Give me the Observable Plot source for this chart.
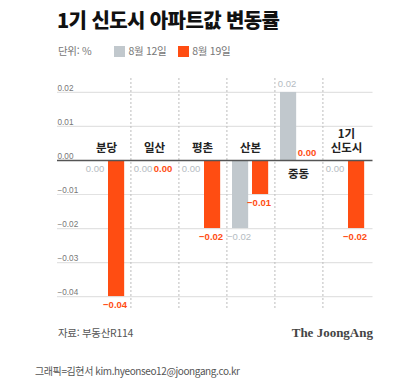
<!DOCTYPE html>
<html lang="ko">
<head>
<meta charset="utf-8">
<script src="https://cdn.jsdelivr.net/npm/d3@7"></script>
<script src="https://cdn.jsdelivr.net/npm/@observablehq/plot@0.6"></script>
<style>
  html, body { margin: 0; padding: 0; background: #fff; }
  #page { position: relative; width: 414px; height: 384px; overflow: hidden; background: #fff;
          font-family: "Noto Sans CJK KR", "Liberation Sans", sans-serif; }
  .abs { position: absolute; white-space: nowrap; }
  #title { left: 57px; top: 8px; font-size: 20px; line-height: 24px; font-weight: 900; color: #111; letter-spacing: -0.6px; }
  #legend { left: 58px; top: 44px; font-size: 10.5px; line-height: 14px; color: #777; display: flex; align-items: center; letter-spacing: -0.3px; }
  .sw { display: inline-block; width: 11px; height: 11px; margin-right: 3px; }
  #chart { left: 0; top: 70px; }
  #source { left: 58px; top: 325px; font-size: 10.5px; line-height: 16px; color: #555; letter-spacing: -0.3px; }
  #brand { right: 41px; top: 324px; font-family: "Liberation Serif", serif; font-weight: 700; font-size: 13px; line-height: 18px; color: #444; }
  #credit { left: 35px; top: 363px; font-size: 10px; line-height: 16px; color: #555; letter-spacing: -0.4px; }
</style>
</head>
<body>
<div id="page">
  <div id="title" class="abs">1기 신도시 아파트값 변동률</div>
  <div id="legend" class="abs"></div>
  <div id="chart" class="abs"></div>
  <div id="source" class="abs">자료: 부동산R114</div>
  <div id="brand" class="abs">The JoongAng</div>
  <div id="credit" class="abs">그래픽=김현서 kim.hyeonseo12@joongang.co.kr</div>
</div>
<script>
// ---- data ----
const categories = ["분당", "일산", "평촌", "산본", "중동", "1기 신도시"];
const categoryLabels = ["분당", "일산", "평촌", "산본", "중동", "1기\n신도시"];
const series = ["8월 12일", "8월 19일"];
const aug12 = [0.00, 0.00, 0.00, -0.02, 0.02, 0.00];
const aug19 = [-0.04, 0.00, -0.02, -0.01, 0.00, -0.02];
const yTicks = [0.02, 0.01, 0.00, -0.01, -0.02, -0.03, -0.04];
const colors = ["#c1c8cd", "#ff4d12"];
const labelColors = ["#b5bcc2", "#ff4d12"];

// ---- legend ----
const legend = document.getElementById("legend");
legend.innerHTML = `<span style="margin-right:23px">단위: %</span>` +
  series.map((s, i) => `<span class="sw" style="background:${colors[i]}"></span><span style="margin-right:12px">${s}</span>`).join("");

// ---- table ----
const rows = [];
categories.forEach((c, i) => {
  const above = Math.max(aug12[i], aug19[i]) > 0;
  rows.push({category: c, series: series[0], value: aug12[i], above, si: 0});
  rows.push({category: c, series: series[1], value: aug19[i], above, si: 1});
});
const catRows = categories.map((c, i) => ({
  category: c, label: categoryLabels[i], above: Math.max(aug12[i], aug19[i]) > 0
}));

const fmt = d3.format(".2f");
const W = 414, H = 250;
const x0 = 79.5, x1 = 372.5;
const bw = (x1 - x0) / categories.length;
const barW = 17, gap = 3, outer = 6;
const insets = [
  {insetLeft: outer, insetRight: bw - outer - barW},
  {insetLeft: outer + barW + gap, insetRight: bw - outer - 2 * barW - gap}
];
const centerOff = [
  -bw / 2 + outer + barW / 2,
  -bw / 2 + outer + barW + gap + barW / 2
];
const labelShift = [-1.5, -1.5];
const numFont = "Liberation Sans, Arial, sans-serif";

const marks = [
  Plot.ruleY(yTicks.filter(t => t !== 0), {y: d => d, stroke: "#e2e2e2", strokeWidth: 1.2}),
  Plot.ruleX(categories.slice(0, -1), {x: d => d, dx: bw / 2, stroke: "#bcbcbc", strokeWidth: 1, strokeDasharray: "2,2"}),
  Plot.text(yTicks, {y: d => d, text: d => fmt(d), frameAnchor: "left", textAnchor: "start", lineAnchor: "bottom",
    dy: -1.5, fontSize: 8.2, fill: "#777", fontFamily: numFont}),
];
series.forEach((s, si) => {
  marks.push(Plot.barY(rows.filter(r => r.si === si), {x: "category", y: "value", fill: colors[si], ...insets[si]}));
});
marks.push(Plot.ruleY([0], {stroke: "#555", strokeWidth: 1.5}));
series.forEach((s, si) => {
  const base = {x: "category", y: "value", text: d => fmt(d.value), dx: centerOff[si] + labelShift[si],
    fill: labelColors[si], fontSize: 9.5, fontWeight: si === 1 ? 700 : 400, fontFamily: numFont, lineAnchor: "middle"};
  marks.push(Plot.text(rows.filter(r => r.si === si && r.above), {...base, dy: -8}));
  marks.push(Plot.text(rows.filter(r => r.si === si && !r.above), {...base, dy: 8}));
});
const catBase = {x: "category", y: () => 0, text: "label", fontSize: 11.5, fontWeight: 700, fill: "#222",
  fontFamily: "Noto Sans CJK KR, sans-serif", lineHeight: 1.3};
marks.push(Plot.text(catRows.filter(d => !d.above), {...catBase, lineAnchor: "bottom", dy: -8}));
marks.push(Plot.text(catRows.filter(d => d.above), {...catBase, lineAnchor: "top", dy: 7}));

const chart = Plot.plot({
  width: W, height: H,
  marginLeft: 57, marginRight: W - x1, marginTop: 8, marginBottom: 11,
  x: {type: "band", domain: categories, range: [x0, x1], padding: 0, axis: null},
  y: {domain: [-0.0438, 0.0241], axis: null},
  style: {background: "transparent", overflow: "visible"},
  marks
});
document.getElementById("chart").appendChild(chart);
</script>
</body>
</html>
